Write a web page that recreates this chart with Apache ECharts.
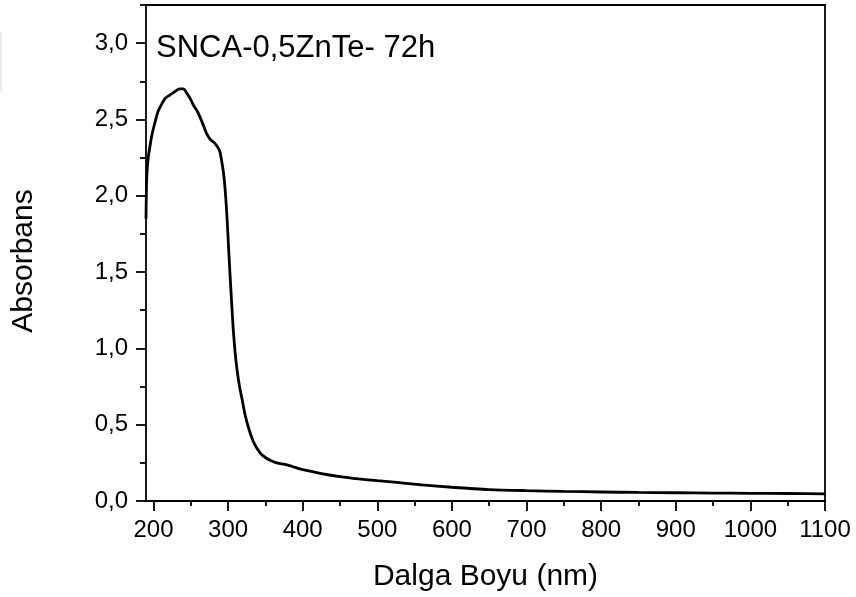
<!DOCTYPE html>
<html>
<head>
<meta charset="utf-8">
<script src="https://cdn.jsdelivr.net/npm/echarts@6/dist/echarts.min.js"></script>
<style>
  html, body { margin: 0; padding: 0; background: #fff; }
  #chart { width: 856px; height: 597px; }
</style>
</head>
<body>
<div id="chart"></div>
<script>
// UV-Vis absorption spectrum, SNCA-0,5ZnTe, 72 h
const wavelength = [
  190, 191, 193, 195.5, 198, 202, 206, 211, 216, 222, 228, 235, 240, 245, 250,
  254, 258, 262, 267, 271, 276, 281, 286, 289, 291, 293, 295, 297, 299, 301,
  303, 305, 307, 309.5, 312, 315, 319, 323, 328, 333, 338, 344, 350, 357, 365,
  372, 380, 390, 400, 425, 450, 475, 500, 530, 560, 600, 650, 700, 750, 800,
  850, 900, 950, 1000, 1050, 1100
];
const absorbance = [
  1.85, 2.12, 2.25, 2.33, 2.40, 2.48, 2.55, 2.60, 2.64, 2.66, 2.68, 2.70, 2.70, 2.67, 2.63,
  2.59, 2.56, 2.52, 2.46, 2.41, 2.37, 2.35, 2.32, 2.29, 2.24, 2.18, 2.10, 1.98, 1.82, 1.63,
  1.45, 1.28, 1.12, 0.97, 0.86, 0.76, 0.66, 0.56, 0.47, 0.40, 0.35, 0.31, 0.285, 0.265, 0.25,
  0.243, 0.235, 0.22, 0.205, 0.18, 0.16, 0.145, 0.133, 0.12, 0.105, 0.09, 0.075, 0.068, 0.063, 0.059,
  0.056, 0.054, 0.052, 0.050, 0.049, 0.047
];

const xMajorTicks = [200, 300, 400, 500, 600, 700, 800, 900, 1000, 1100];
const xMinorTicks = [250, 350, 450, 550, 650, 750, 850, 950, 1050];
const yMajorTicks = [0, 0.5, 1.0, 1.5, 2.0, 2.5, 3.0];
const yMinorTicks = [0.25, 0.75, 1.25, 1.75, 2.25, 2.75, 3.25];

const sampleLabel = 'SNCA-0,5ZnTe- 72h';
const xName = 'Dalga Boyu (nm)';
const yName = 'Absorbans';

const FONT = '"Liberation Sans", Arial, sans-serif';
const INK = '#000';
const X_MIN = 190, X_MAX = 1100, Y_MIN = 0, Y_MAX = 3.25;
const AXIS_W = 1.8;

const chart = echarts.init(document.getElementById('chart'), null, { renderer: 'canvas' });

const frameLine = { show: true, onZero: false, lineStyle: { color: INK, width: AXIS_W } };
const noExtras = {
  axisTick: { show: false }, axisLabel: { show: false }, splitLine: { show: false }
};

chart.setOption({
  animation: false,
  backgroundColor: '#fff',
  title: {
    text: sampleLabel,
    left: 151, top: 28,
    textStyle: { fontFamily: FONT, fontSize: 31, fontWeight: 'normal', color: INK }
  },
  grid: { left: 146, right: 31, top: 5, bottom: 94, containLabel: false },
  xAxis: [
    {
      type: 'value', position: 'bottom', min: X_MIN, max: X_MAX,
      name: xName, nameLocation: 'middle', nameGap: 61,
      nameTextStyle: { fontFamily: FONT, fontSize: 30, color: INK },
      axisLine: frameLine,
      axisTick: { show: true, inside: false, length: 10, customValues: xMajorTicks,
                  lineStyle: { color: INK, width: AXIS_W } },
      axisLabel: { show: true, customValues: xMajorTicks, margin: 17,
                   fontFamily: FONT, fontSize: 24, color: INK,
                   formatter: v => String(v) },
      splitLine: { show: false }
    },
    {
      type: 'value', position: 'bottom', min: X_MIN, max: X_MAX,
      axisLine: { show: false },
      axisTick: { show: true, inside: false, length: 5, customValues: xMinorTicks,
                  lineStyle: { color: INK, width: AXIS_W } },
      axisLabel: { show: false }, splitLine: { show: false }
    },
    Object.assign({ type: 'value', position: 'top', min: X_MIN, max: X_MAX, axisLine: frameLine }, noExtras)
  ],
  yAxis: [
    {
      type: 'value', position: 'left', min: Y_MIN, max: Y_MAX,
      name: yName, nameLocation: 'middle', nameGap: 107,
      nameTextStyle: { fontFamily: FONT, fontSize: 30, color: INK, padding: [0, 16, 0, 0] },
      axisLine: frameLine,
      axisTick: { show: true, inside: false, length: 10, customValues: yMajorTicks,
                  lineStyle: { color: INK, width: AXIS_W } },
      axisLabel: { show: true, customValues: yMajorTicks, margin: 18,
                   fontFamily: FONT, fontSize: 24, color: INK,
                   formatter: v => v.toFixed(1).replace('.', ',') },
      splitLine: { show: false }
    },
    {
      type: 'value', position: 'left', min: Y_MIN, max: Y_MAX,
      axisLine: { show: false },
      axisTick: { show: true, inside: false, length: 6, customValues: yMinorTicks,
                  lineStyle: { color: INK, width: AXIS_W } },
      axisLabel: { show: false }, splitLine: { show: false }
    },
    Object.assign({ type: 'value', position: 'right', min: Y_MIN, max: Y_MAX, axisLine: frameLine }, noExtras)
  ],
  series: [{
    type: 'line',
    xAxisIndex: 0, yAxisIndex: 0,
    data: wavelength.map((w, i) => [w, absorbance[i]]),
    showSymbol: false,
    smooth: 0.25,
    clip: true,
    lineStyle: { color: INK, width: 2.8 }
  }],
  graphic: [{
    type: 'rect', left: 0, top: 32, shape: { width: 2, height: 60 },
    style: { fill: '#ececec' }, silent: true
  }]
});
</script>
</body>
</html>
